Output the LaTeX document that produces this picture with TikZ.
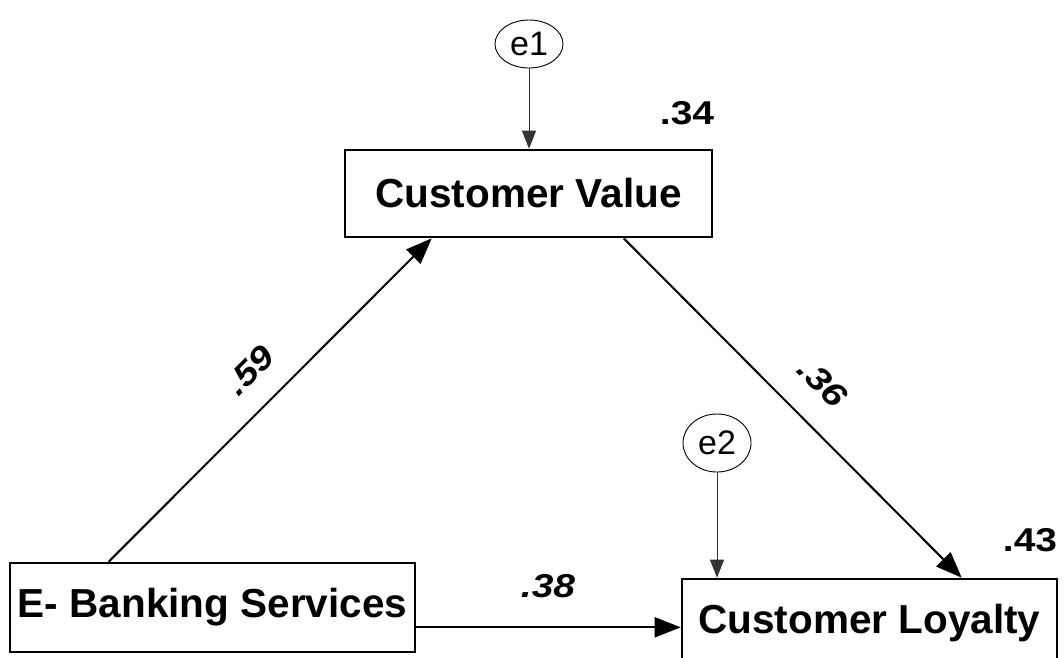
\documentclass[tikz,border=0pt]{standalone}
\usepackage{fontspec}
\setmainfont{Liberation Sans}
\usetikzlibrary{arrows.meta,shapes.geometric,calc}
\begin{document}
\begin{tikzpicture}[x=1pt,y=-1pt,
  box/.style={draw,line width=2.6pt,inner sep=0pt,align=center,
    font=\fontsize{40.5}{48}\selectfont\bfseries},
  err/.style={draw,ellipse,line width=0.9pt,inner sep=0pt,
    font=\fontsize{34}{38}\selectfont},
  path/.style={line width=2pt,-{Triangle[length=26pt,width=20pt]}},
  errpath/.style={line width=1pt,draw=black!80,-{Triangle[length=18pt,width=14pt]}},
  rsq/.style={inner sep=0pt,font=\fontsize{33}{38}\selectfont\bfseries},
  coef/.style={inner sep=0pt,font=\fontsize{33}{38}\selectfont\bfseries\itshape}]
\useasboundingbox (0,0) rectangle (1064,657);

\node[box,minimum width=405pt,minimum height=89pt] (eb) at (212.5,607.5) {E- Banking Services};
\node[box,minimum width=367pt,minimum height=87pt] (cv) at (528.5,193.5) {Customer Value};
\node[box,minimum width=375pt,minimum height=88pt] (cl) at (869.5,623) {Customer Loyalty};

\node[err,minimum width=68pt,minimum height=48pt] (e1) at (529,44) {e1};
\node[err,minimum width=68pt,minimum height=58pt] (e2) at (717,443) {e2};

\draw[errpath] (e1) -- (e1 |- cv.north);
\draw[errpath] (e2) -- (e2 |- cl.north);

\draw[path] ($(eb.north west)+(100,0)$) -- ($(cv.south west)+(88,0)$);
\draw[path] ($(cv.south west)+(280,0)$) -- ($(cl.north west)+(281,0)$);
\coordinate (h) at ($(eb.south east)+(0,-26)$);
\draw[path] (h) -- (h -| cl.west);

\node[rsq] (r1) at (687,113) {\scalebox{1.18}[1]{.34}};
\node[rsq] (r2) at (1030,540) {\scalebox{1.18}[1]{.43}};
\node[coef] (c3) at (548,586) {\scalebox{1.18}[1]{.38}};
\node[coef,rotate=45] (c1) at (250,370) {\scalebox{1.18}[1]{.59}};
\node[coef,rotate=-45] (c2) at (823,383) {\scalebox{1.18}[1]{.36}};
\end{tikzpicture}
\end{document}
